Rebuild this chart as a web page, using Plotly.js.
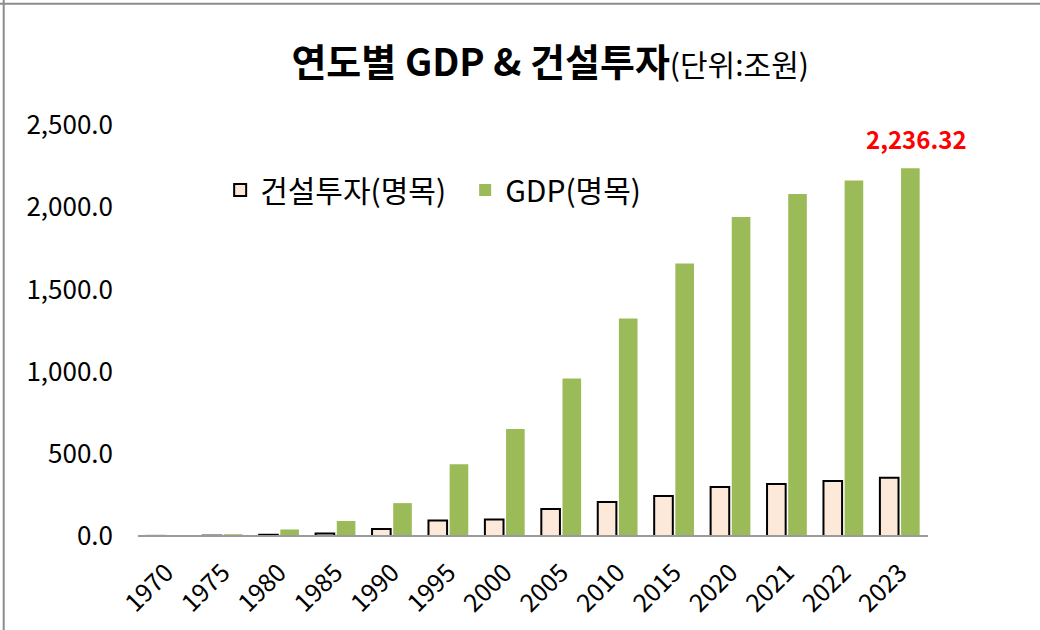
<!DOCTYPE html>
<html>
<head>
<meta charset="utf-8">
<script src="https://cdn.plot.ly/plotly-3.0.1.min.js"></script>
<style>html,body{margin:0;padding:0;background:#fff;}#chart{width:1040px;height:630px;}</style>
</head>
<body>
<div id="chart"></div>
<script>
const years = ['1970','1975','1980','1985','1990','1995','2000','2005','2010','2015','2020','2021','2022','2023'];
const construction = [0.6, 2.3, 7.5, 15, 43, 95, 101, 164, 207, 243, 298, 316, 334, 354];
const gdp = [2.8, 10.8, 39.7, 91.2, 200.0, 437.0, 651.6, 957.4, 1322.6, 1658.0, 1940.7, 2080.2, 2161.8, 2236.32];
const seriesNames = ['건설투자(명목)', 'GDP(명목)'];
const titleMain = '연도별 GDP & 건설투자';
const titleUnit = '(단위:조원)';
const lastLabel = '2,236.32';

const FONT = 'Noto Sans CJK KR, Noto Sans, sans-serif';

const traces = [
  {type:'bar', x: years, y: construction, name: seriesNames[0],
   marker:{color:'#FDE9D9', line:{color:'#000000', width:2}}},
  {type:'bar', x: years, y: gdp, name: seriesNames[1],
   marker:{color:'#9BBB59', line:{width:0}}}
];

const layout = {
  width:1040, height:630,
  margin:{l:138, r:112, t:125, b:94},
  paper_bgcolor:'#ffffff', plot_bgcolor:'#ffffff',
  font:{family:FONT, color:'#000000', size:25},
  barmode:'group', bargap:0.25, bargroupgap:0.12,
  title:{text:'<b>'+titleMain+'</b><span style="font-size:30px">'+titleUnit+'</span>',
         font:{family:FONT, size:38, color:'#000'}, x:0.529, xanchor:'center', xref:'container',
         y:0.9, yanchor:'middle', yref:'container'},
  xaxis:{type:'category', categoryorder:'array', categoryarray: years, range:[-0.5, years.length-0.5],
         showgrid:false, zeroline:false, showline:false,
         tickangle:-45, tickfont:{size:25, family:FONT}, ticks:'', ticklabelstandoff:16},
  yaxis:{range:[0,2500], tickvals:[0,500,1000,1500,2000,2500], tickformat:',.1f',
         showgrid:false, zeroline:false, showline:false, ticks:'', tickfont:{size:26, family:FONT},
         ticklabelstandoff:24},
  legend:{orientation:'h', x:0.104, xanchor:'left', y:0.842, yanchor:'middle',
          entrywidth:200, entrywidthmode:'pixels',
          font:{size:30, family:FONT}, bgcolor:'rgba(0,0,0,0)', traceorder:'normal'},
  showlegend:true,
  shapes:[
    {type:'line', xref:'paper', yref:'paper', x0:0, x1:1, y0:0, y1:0, line:{color:'#9a9a9a', width:2}},
    {type:'line', xref:'paper', yref:'paper', x0:-0.17, x1:-0.17, y0:-1, y1:2, line:{color:'#8c8c8c', width:2}},
    {type:'line', xref:'paper', yref:'paper', x0:-1, x1:2, y0:1.295, y1:1.295, line:{color:'#8c8c8c', width:2}}
  ],
  annotations:[
    {x: years.length-1, y: gdp[gdp.length-1], xref:'x', yref:'y', text:'<b>'+lastLabel+'</b>',
     showarrow:false, yanchor:'bottom', yshift:10, xshift:17, font:{color:'#FF0000', size:24, family:FONT}}
  ]
};

Plotly.newPlot('chart', traces, layout, {displayModeBar:false, staticPlot:true});
</script>
</body>
</html>
